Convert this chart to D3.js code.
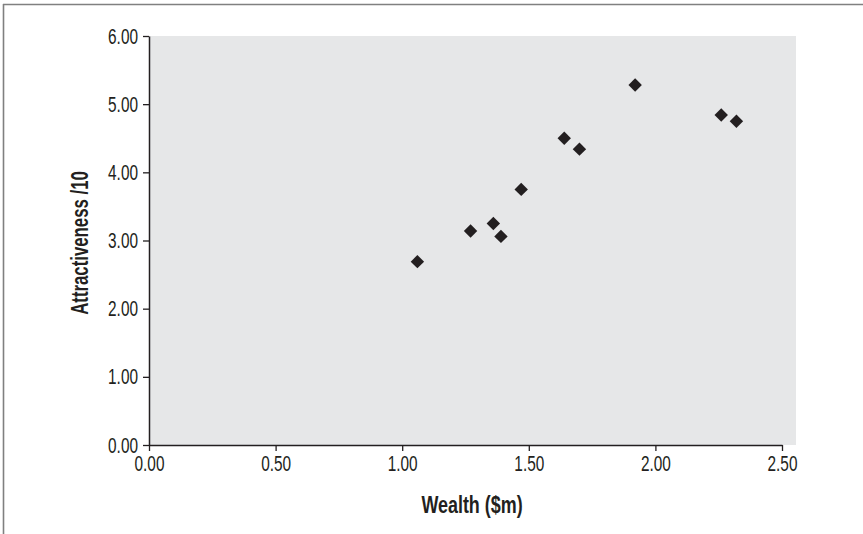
<!DOCTYPE html>
<html>
<head>
<meta charset="utf-8">
<script src="https://cdn.jsdelivr.net/npm/d3@7"></script>
<style>
  html, body { margin: 0; padding: 0; background: #ffffff; }
  svg { display: block; }
  .tick text { font-family: "Liberation Sans", Arial, sans-serif; font-size: 22px; fill: #231f20; }
  .title { font-family: "Liberation Sans", Arial, sans-serif; font-weight: bold; font-size: 23px; fill: #231f20; }
</style>
</head>
<body>
<svg id="chart" width="863" height="534"></svg>
<script>
// Data: wealth ($m) vs attractiveness /10
const wealth = [1.06, 1.27, 1.36, 1.39, 1.47, 1.64, 1.70, 1.92, 2.26, 2.32];
const attractiveness = [2.69, 3.14, 3.25, 3.06, 3.75, 4.50, 4.34, 5.28, 4.84, 4.75];
const xTicks = [0, 0.5, 1.0, 1.5, 2.0, 2.5];
const yTicks = [0, 1, 2, 3, 4, 5, 6];
const xTitle = "Wealth ($m)";
const yTitle = "Attractiveness /10";

const svg = d3.select("#chart");
const W = 863, H = 534;
const plotLeft = 149, plotTop = 36, plotBottom = 445, axisRight = 782, bgRight = 796;
const condenseTick = 0.7, condenseX = 0.78, condenseY = 0.73; // horizontal squeeze to imitate a condensed face

// Outer frame (top and left edges)
svg.append("line").attr("x1", 3).attr("x2", W).attr("y1", 4.5).attr("y2", 4.5)
  .attr("stroke", "#808080").attr("stroke-width", 1.6);
svg.append("line").attr("x1", 3.5).attr("x2", 3.5).attr("y1", 4).attr("y2", H)
  .attr("stroke", "#808080").attr("stroke-width", 1.6);

const x = d3.scaleLinear().domain([0, 2.5]).range([plotLeft, axisRight]);
const y = d3.scaleLinear().domain([0, 6]).range([plotBottom, plotTop]);

// Plot background
svg.append("rect").attr("x", plotLeft).attr("y", plotTop)
  .attr("width", bgRight - plotLeft).attr("height", plotBottom - plotTop)
  .attr("fill", "#e6e7e8");

const fmt = d3.format(".2f");

const yAxis = svg.append("g").attr("transform", `translate(${plotLeft},0)`)
  .call(d3.axisLeft(y).tickValues(yTicks).tickFormat(fmt).tickSize(6).tickSizeOuter(0).tickPadding(5));
const xAxis = svg.append("g").attr("transform", `translate(0,${plotBottom})`)
  .call(d3.axisBottom(x).tickValues(xTicks).tickFormat(fmt).tickSize(6).tickSizeOuter(0).tickPadding(4));

[xAxis, yAxis].forEach(g => {
  g.select(".domain").attr("stroke", "#231f20").attr("stroke-width", 1.5);
  g.selectAll(".tick line").attr("stroke", "#231f20").attr("stroke-width", 1.3);
  g.attr("font-family", null).attr("font-size", null);
});
yAxis.selectAll(".tick text").attr("x", 0).attr("transform", `translate(-11,0) scale(${condenseTick},1)`);
xAxis.selectAll(".tick text").attr("transform", `scale(${condenseTick},1)`);

// Points (diamonds)
const diamond = d3.symbol().type(d3.symbolSquare).size(90);
svg.append("g").selectAll("path")
  .data(wealth.map((w, i) => [w, attractiveness[i]]))
  .join("path")
  .attr("d", diamond)
  .attr("transform", d => `translate(${x(d[0])},${y(d[1])}) rotate(45)`)
  .attr("fill", "#231f20");

// Axis titles
svg.append("text").attr("class", "title")
  .attr("transform", `translate(472,513) scale(${condenseX},1)`)
  .attr("text-anchor", "middle").text(xTitle);
svg.append("text").attr("class", "title")
  .attr("transform", `translate(88,243) rotate(-90) scale(${condenseY},1)`)
  .attr("text-anchor", "middle").text(yTitle);
</script>
</body>
</html>
